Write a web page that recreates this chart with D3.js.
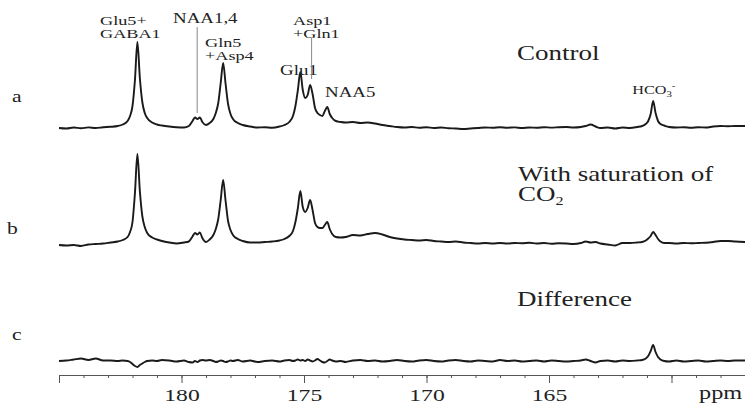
<meta charset="utf-8">
<style>
    body{
        margin: 0;
        background: white;
    }
    text{
        font-family: "Liberation Serif", "Times New Roman", serif;
        fill: #222;
    }
</style>
<script src="https://d3js.org/d3.v7.min.js"></script>
<body>
    <div id="spectrum"></div>
</body>
<script>
    // chemical shift grid (ppm), shared by the three spectra
    ppm = [185.0, 184.7, 184.4, 184.1, 183.8, 183.5, 183.2, 182.9, 182.6, 182.4,
           182.2, 182.1, 182.0, 181.9, 181.8, 181.7, 181.6, 181.5, 181.4, 181.2,
           181.0, 180.8, 180.5, 180.2, 179.9, 179.7, 179.55, 179.45, 179.35, 179.25,
           179.15, 179.0, 178.85, 178.7, 178.6, 178.5, 178.4, 178.3, 178.2, 178.1,
           178.0, 177.9, 177.7, 177.5, 177.2, 176.9, 176.6, 176.3, 176.0, 175.8,
           175.6, 175.45, 175.35, 175.25, 175.15, 175.05, 174.95, 174.85, 174.75, 174.65,
           174.55, 174.45, 174.35, 174.25, 174.15, 174.05, 173.95, 173.85, 173.7, 173.5,
           173.3, 173.0, 172.7, 172.4, 172.1, 171.8, 171.5, 171.2, 170.9, 170.6,
           170.3, 170.0, 169.7, 169.4, 169.1, 168.8, 168.5, 168.2, 167.9, 167.6,
           167.3, 167.0, 166.7, 166.4, 166.1, 165.8, 165.5, 165.2, 164.9, 164.6,
           164.3, 164.0, 163.7, 163.5, 163.3, 163.1, 162.9, 162.6, 162.3, 162.0,
           161.7, 161.4, 161.2, 161.05, 160.95, 160.85, 160.75, 160.65, 160.55, 160.45,
           160.3, 160.1, 159.8, 159.5, 159.2, 158.9, 158.6, 158.3, 158.0, 157.7,
           157.4, 157.0];

    // a: control
    control = [0, -0.5, 0.5, -0.3, 0.6, 0, 0.8, 1.2, 2, 3.5,
               7, 12, 22, 48, 86, 50, 26, 15, 10, 5.5,
               3.5, 2.5, 1.5, 0.8, 0.5, 2, 7, 10.5, 9, 10.5,
               6, 3, 5, 9, 15, 25, 45, 65, 44, 24,
               14, 9, 5, 3, 1.5, 0.5, 0.8, 0.3, 1.5, 3,
               6, 12, 22, 38, 56, 38, 30, 33, 43, 34,
               20, 15, 13, 12, 17, 21, 14, 10, 7, 6,
               5.5, 6, 5, 5.5, 4.5, 3, 2, 1, 0.5, 1,
               0.3, 0.8, 0, 0.5, -0.3, -0.5, -1, -0.5, 0, 0.5,
               0.2, 0.8, 0.3, 0.6, 0, 0.5, 0.2, 0.8, 0.4, 0.8,
               1, 0.5, 1, 2, 3.5, 1.5, 0, 0.5, -0.5, 0.5,
               0, 1, 2, 4, 7, 14, 27, 15, 7, 4,
               2.5, 1, 0.5, 0.8, 0.3, 0.8, 0.5, 1.5, 2, 1.8,
               2, 2];

    // b: with saturation of CO2
    saturated = [-2, -2.5, -2, -3, -1.5, -1, -0.5, 0.5, 1.5, 3,
                 6, 11, 21, 50, 89, 52, 27, 16, 10, 5.5,
                 3.5, 2, 0.5, -0.5, 0.5, 1.5, 6.5, 10, 8.5, 10.5,
                 5, 1, 3.5, 8, 14, 24, 43, 63, 42, 22,
                 13, 8, 4, 2, 0.5, 0.5, 1, 1.5, 2.5, 4,
                 7, 12, 21, 35, 52, 36, 31, 35, 43, 33,
                 20, 16, 15, 15, 18, 21, 14, 9, 6, 5.5,
                 6, 8, 7.5, 9, 10, 8.5, 6, 4.5, 3.5, 3,
                 2.5, 3, 2, 1.5, 1, 1.5, 0.5, 0, -0.5, 0,
                 -0.5, 0, -0.5, 0, -0.3, 0.3, -0.5, 0, -0.8, -0.3,
                 -0.5, -1, 0, 1.5, 0.5, 1, -0.5, -1.5, -2.5, 0,
                 0, 0.5, 1, 2.5, 4.5, 7, 11, 8, 4, 1.5,
                 0, 0, -0.5, 0, -0.3, 0, 0.3, 1, 2, 2,
                 1.5, 1];

    // c: difference
    difference = [0, 0.5, 1.5, 2.5, 1, 2.5, 0.5, 0.5, 0, 0.5,
                  0, -1, -3, -5, -6, -4, -2.5, -1, 0, 0.5,
                  0, 1, 0.5, -0.5, 0.5, -1, -1.5, 0, -1, 0.5,
                  1, 0.5, 1, 0, -1, -0.5, 0.5, 0, -1, -0.5,
                  0.5, 0, 1, -0.5, 0.5, -1, 0, 0.5, -0.5, 0.5,
                  1, 0, 0.5, 1.5, 0.5, 1, 0, 1.5, 0.5, -0.5,
                  0.5, 2, 0.5, -1, -1.5, 0, 1.5, 0.5, -0.5, 0,
                  -1, 0.5, 1, 0, 0.5, -0.5, 0, 1, 0, -0.5,
                  0.5, 1, 0, -0.5, 0.5, 1, 0, -0.5, 0.5, 0,
                  -0.5, 1, 0, 0.5, -0.5, 0, 0.5, -0.5, 0.5, 0,
                  -0.5, 0, 0.5, 1.5, 0, -1.5, 0, 0.5, -0.5, 0.5,
                  0, 0.5, 1, 2.5, 5, 10, 16, 9, 4, 1.5,
                  0, -0.5, 0.5, -0.5, 0, 0.5, -0.5, 0, 0.5, 0,
                  0.5, 0.5];

    majorTicks = [185, 180, 175, 170, 165, 160];
    tickLabels = [180, 175, 170, 165];
    minorTicks = d3.range(157, 186, 1);

    width = 745;
    height = 404;
    stretch = 1.35; // the figure's lettering is drawn wide

    svg = d3.select("#spectrum")
            .append("svg")
            .attr("width", width)
            .attr("height", height);

    x = d3.scaleLinear().domain([185, 157]).range([59, 745]);

    // each trace gets its own vertical scale, 1 unit ~ 1px above its baseline
    traces = [
        {values: control,    base: 128},
        {values: saturated,  base: 243},
        {values: difference, base: 361}
    ];

    traces.forEach(function(t){
        var y = d3.scaleLinear().domain([0, 100]).range([t.base, t.base - 100]);
        var line = d3.line()
                     .x(function(d, i){ return x(ppm[i]); })
                     .y(function(d){ return y(d); })
                     .curve(d3.curveMonotoneX);
        svg.append("path")
           .datum(t.values)
           .attr("d", line)
           .attr("fill", "none")
           .attr("stroke", "#1a1a1a")
           .attr("stroke-width", 1.9)
           .attr("stroke-linejoin", "round");
    });

    // ppm axis
    axisY = 375;
    svg.append("g")
       .attr("transform", "translate(0," + axisY + ")")
       .call(d3.axisBottom(x).tickValues(minorTicks).tickSize(3).tickSizeOuter(0).tickFormat(""))
       .call(function(g){ g.selectAll("line, path").attr("stroke", "#555"); });

    major = svg.append("g")
       .attr("transform", "translate(0," + axisY + ")")
       .call(d3.axisBottom(x).tickValues(majorTicks).tickSize(8).tickSizeOuter(0)
               .tickFormat(function(d){ return tickLabels.indexOf(d) >= 0 ? d : ""; }));
    major.select(".domain").remove();
    major.selectAll("line").attr("stroke", "#555");
    major.selectAll("text")
         .attr("y", null)
         .attr("dy", null)
         .attr("transform", "translate(0,26) scale(" + stretch + ",1)")
         .style("font-family", "'Liberation Serif', serif")
         .style("font-size", "17.5px")
         .attr("fill", "#222");

    function label(px, py, str, size, anchor){
        return svg.append("text")
                  .attr("transform", "translate(" + px + "," + py + ") scale(" + stretch + ",1)")
                  .attr("text-anchor", anchor || "start")
                  .style("font-size", size + "px")
                  .text(str);
    }

    // trace letters
    label(12, 102, "a", 16);
    label(7, 234, "b", 16);
    label(12, 340, "c", 16);

    // peak assignments
    label(100, 25, "Glu5+", 13.5);
    label(100, 38, "GABA1", 13.5);
    label(173, 23, "NAA1,4", 14);
    label(205, 47, "Gln5", 13.5);
    label(205, 60, "+Asp4", 13.5);
    label(280, 75, "Glu1", 14);
    label(293, 25, "Asp1", 13.5);
    label(293, 38, "+Gln1", 13.5);
    label(325, 97, "NAA5", 14);

    svg.append("line")
       .attr("x1", x(179.36)).attr("x2", x(179.36))
       .attr("y1", 27).attr("y2", 113)
       .attr("stroke", "#888").attr("stroke-width", 1);
    svg.append("line")
       .attr("x1", x(174.69)).attr("x2", x(174.69))
       .attr("y1", 38).attr("y2", 79)
       .attr("stroke", "#888").attr("stroke-width", 1);

    hco = label(x(160.72), 94, "HCO", 12, "middle");
    hco.append("tspan").attr("dy", 3).style("font-size", "8px").text("3");
    hco.append("tspan").attr("dy", -8).style("font-size", "8px").text("-");

    // trace titles
    label(517, 60, "Control", 20);
    label(518, 181, "With saturation of", 20);
    co2 = label(518, 201, "CO", 20);
    co2.append("tspan").attr("dy", 4).style("font-size", "12px").text("2");
    label(517, 306, "Difference", 20);

    label(699, 399, "ppm", 18);
</script>
